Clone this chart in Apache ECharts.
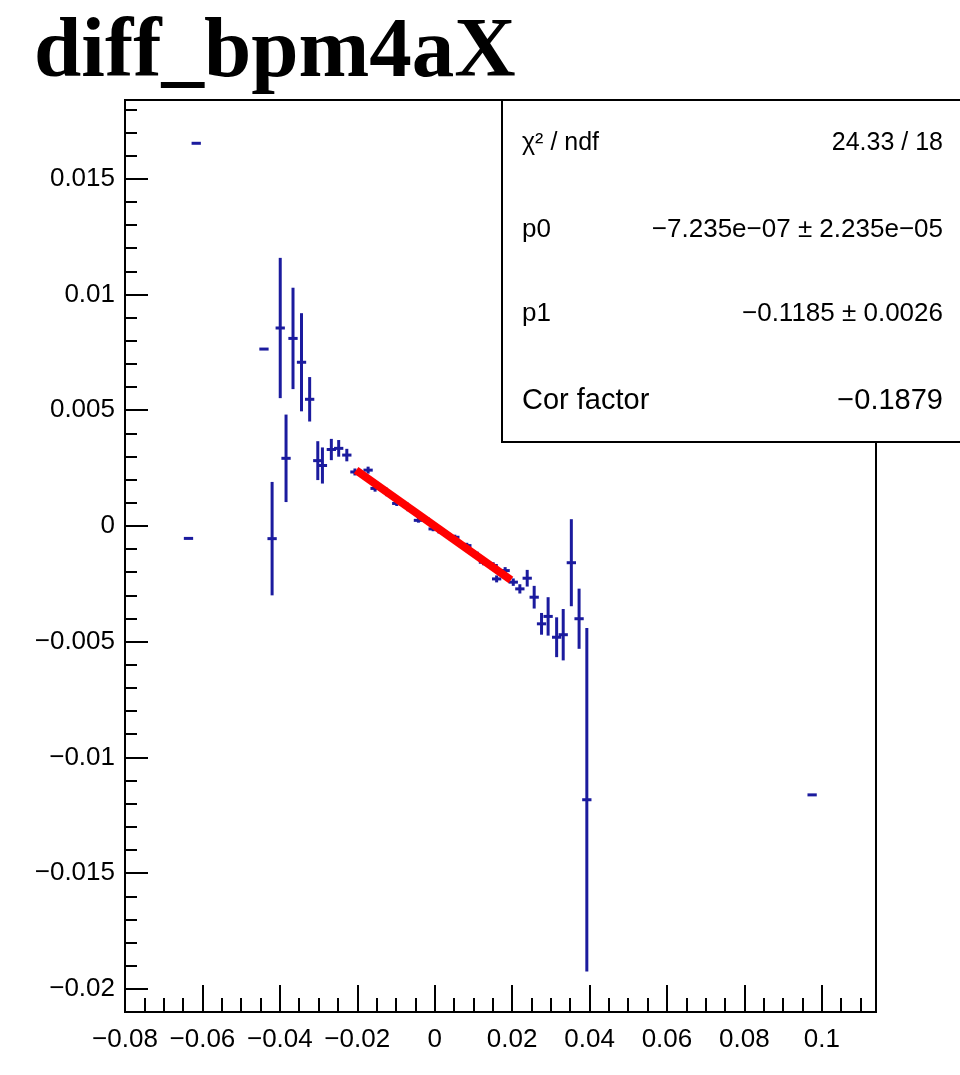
<!DOCTYPE html>
<html>
<head>
<meta charset="utf-8">
<script src="https://cdn.jsdelivr.net/npm/echarts@6/dist/echarts.min.js"></script>
<style>
html, body { margin: 0; padding: 0; background: #fff; }
#main { width: 960px; height: 1075px; }
</style>
</head>
<body>
<div id="main"></div>
<script>
// profile points: bin position, mean, error on mean
var ptX = [-0.0636, -0.0616, -0.0441, -0.0420, -0.0399, -0.0384, -0.0366, -0.0344, -0.0323, -0.0302,
           -0.0290, -0.0267, -0.0248, -0.0227, -0.0206, -0.0188, -0.0172, -0.0154, -0.0134, -0.0116,
           -0.0098, -0.0079, -0.0061, -0.0042, -0.0025, -0.0004, 0.0019, 0.0052, 0.0068, 0.0083,
           0.0102, 0.0126, 0.0151, 0.0160, 0.0182, 0.0203, 0.0220, 0.0239, 0.0257, 0.0276,
           0.0293, 0.0315, 0.0332, 0.0353, 0.0373, 0.0393, 0.0975];
var ptY = [-0.00054, 0.01653, 0.00764, -0.00055, 0.00855, 0.00292, 0.00810, 0.00707, 0.00547, 0.00282,
           0.00261, 0.00330, 0.00335, 0.00306, 0.00233, 0.00222, 0.00241, 0.00162, 0.00160, 0.00135,
           0.00097, 0.00094, 0.00070, 0.00024, 0.00030, -0.00013, -0.00026, -0.00049, -0.00080, -0.00085,
           -0.00118, -0.00157, -0.00171, -0.00229, -0.00193, -0.00243, -0.00272, -0.00226, -0.00308, -0.00423,
           -0.00391, -0.00481, -0.00470, -0.00159, -0.00401, -0.01183, -0.01162];
var ptErr = [0, 0, 0, 0.00245, 0.00303, 0.00189, 0.00219, 0.00212, 0.00096, 0.00084,
             0.00078, 0.00046, 0.00036, 0.00027, 0.00015, 0.00014, 0.00015, 0.00014, 0.00012, 0.00012,
             0.00011, 0.00010, 0.00010, 0.00010, 0.00010, 0.00010, 0.00010, 0.00011, 0.00011, 0.00012,
             0.00012, 0.00013, 0.00014, 0.00015, 0.00015, 0.00016, 0.00020, 0.00036, 0.00049, 0.00047,
             0.00083, 0.00086, 0.00111, 0.00188, 0.00130, 0.00742, 0];
var binHalf = 0.0012;

// fitted straight line, end points as drawn
var fitX = [-0.0203, 0.0197];
var fitY = [0.00240, -0.00234];

var yTicks = [-0.02, -0.015, -0.01, -0.005, 0, 0.005, 0.01, 0.015];

var statNames = ['\u03c7\u00b2 / ndf', 'p0', 'p1', 'Cor factor'];
var statValues = ['24.33 / 18', '\u22127.235e\u221207 \u00b1 2.235e\u221205', '\u22120.1185 \u00b1 0.0026', '\u22120.1879'];

var dom = document.getElementById('main');
var myChart = echarts.init(dom);

function fmt(v) {
    var s = String(parseFloat(v.toFixed(4)));
    return s.replace('-', '\u2212');
}

var pts = [];
for (var i = 0; i < ptX.length; i++) {
    pts.push([ptX[i], ptY[i], ptErr[i]]);
}

var labelFont = 'Liberation Sans';
var barColor = '#1b1b9e';

// stats box rows
var statRowY = [143, 230, 314, 401];
var statSize = [25, 26, 26, 29];
var graphics = [{
    type: 'rect',
    z: 100,
    shape: {x: 502, y: 100, width: 470, height: 342},
    style: {fill: '#fff', stroke: '#000', lineWidth: 2}
}];
for (var k = 0; k < statNames.length; k++) {
    graphics.push({
        type: 'text', z: 101,
        style: {text: statNames[k], x: 522, y: statRowY[k], font: statSize[k] + 'px ' + labelFont,
                fill: '#000', align: 'left', verticalAlign: 'middle'}
    });
    graphics.push({
        type: 'text', z: 101,
        style: {text: statValues[k], x: 943, y: statRowY[k], font: statSize[k] + 'px ' + labelFont,
                fill: '#000', align: 'right', verticalAlign: 'middle'}
    });
}

var option = {
    animation: false,
    backgroundColor: '#fff',
    title: {
        text: 'diff_bpm4aX',
        left: 29,
        top: 7,
        textStyle: {fontFamily: 'Liberation Serif', fontWeight: 'bold', fontSize: 85, color: '#000'}
    },
    grid: {
        left: 125, right: 84, top: 100, bottom: 63,
        show: true, borderColor: '#000', borderWidth: 2, backgroundColor: 'transparent'
    },
    xAxis: [
        {
            type: 'value', min: -0.08, max: 0.114, interval: 0.02, position: 'bottom',
            axisLine: {show: true, onZero: false, lineStyle: {color: '#000', width: 2}},
            axisTick: {inside: true, length: 27, lineStyle: {color: '#000', width: 2}},
            axisLabel: {formatter: fmt, fontSize: 26, fontFamily: labelFont, color: '#000', margin: 15,
                        showMaxLabel: false, showMinLabel: true},
            splitLine: {show: false}
        },
        {
            type: 'value', min: -0.08, max: 0.114, interval: 0.005, position: 'bottom',
            axisLine: {show: false, onZero: false},
            axisTick: {inside: true, length: 14, lineStyle: {color: '#000', width: 2}},
            axisLabel: {show: false},
            splitLine: {show: false}
        }
    ],
    yAxis: [
        {
            type: 'value', min: -0.021, max: 0.0184, position: 'left',
            axisLine: {show: true, onZero: false, lineStyle: {color: '#000', width: 2}},
            axisTick: {inside: true, length: 23, customValues: yTicks, lineStyle: {color: '#000', width: 2}},
            axisLabel: {customValues: yTicks, formatter: fmt, fontSize: 26, fontFamily: labelFont,
                        color: '#000', margin: 10},
            splitLine: {show: false}
        },
        {
            type: 'value', min: -0.021, max: 0.0184, interval: 0.001, position: 'left',
            axisLine: {show: false, onZero: false},
            axisTick: {inside: true, length: 12, lineStyle: {color: '#000', width: 2}},
            axisLabel: {show: false},
            splitLine: {show: false}
        }
    ],
    graphic: graphics,
    series: [
        {
            type: 'custom',
            xAxisIndex: 0, yAxisIndex: 0,
            clip: true,
            data: pts,
            renderItem: function (params, api) {
                var x = api.value(0), y = api.value(1), e = api.value(2);
                var c = api.coord([x, y]);
                var lo = api.coord([x, y - e]);
                var hi = api.coord([x, y + e]);
                var l = api.coord([x - binHalf, y]);
                var r = api.coord([x + binHalf, y]);
                var st = {stroke: barColor, lineWidth: 3};
                var kids = [{type: 'line', shape: {x1: l[0], y1: c[1], x2: r[0], y2: c[1]}, style: st}];
                if (e > 0) {
                    kids.push({type: 'line', shape: {x1: c[0], y1: hi[1], x2: c[0], y2: lo[1]}, style: st});
                }
                return {type: 'group', children: kids};
            },
            z: 3
        },
        {
            type: 'line',
            xAxisIndex: 0, yAxisIndex: 0,
            data: [[fitX[0], fitY[0]], [fitX[1], fitY[1]]],
            showSymbol: false,
            lineStyle: {color: '#ff0000', width: 8},
            z: 4
        }
    ]
};

myChart.setOption(option, true);
</script>
</body>
</html>
